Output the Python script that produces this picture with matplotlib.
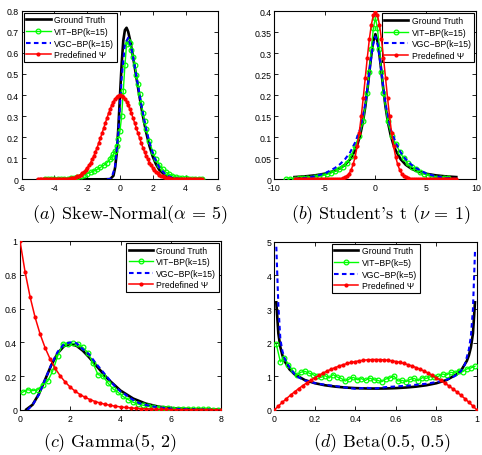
import numpy as np
import matplotlib
matplotlib.use("Agg")
import matplotlib.pyplot as plt
from matplotlib.ticker import FuncFormatter

plt.rcParams['font.family'] = ['Liberation Sans', 'DejaVu Sans']
plt.rcParams['mathtext.fontset'] = 'cm'

# ---------------- (a) Skew-Normal(alpha=5) ----------------
gt_a_x = [-5, -2, -1, -0.6, -0.4, -0.3, -0.2, -0.1, 0, 0.1, 0.2, 0.3, 0.4, 0.5, 0.6, 0.8, 1.0, 1.2,
          1.4, 1.6, 1.8, 2.0, 2.2, 2.4, 2.8, 3.2, 3.6, 4.0, 5.0]
gt_a_y = [0, 0, 0, 0.001, 0.017, 0.055, 0.124, 0.245, 0.399, 0.545, 0.658, 0.708, 0.719, 0.700, 0.666,
          0.579, 0.484, 0.388, 0.300, 0.222, 0.158, 0.108, 0.071, 0.045, 0.016, 0.005, 0.001, 0.0003, 0]
vgc_a_x = [-0.8, -0.6, -0.5, -0.3, -0.1, 0.1, 0.3, 0.5, 0.7, 0.9, 1.1, 1.3, 1.5, 1.7, 1.9, 2.1, 2.4,
           2.8, 3.2, 3.6, 4.0]
vgc_a_y = [0, 0.002, 0.01, 0.06, 0.22, 0.48, 0.64, 0.672, 0.62, 0.535, 0.445, 0.355, 0.275, 0.205,
           0.148, 0.103, 0.056, 0.021, 0.007, 0.002, 0]
vit_a_x = [-4.6, -4.4, -4.2, -4.0, -3.8, -3.6, -3.4, -3.2, -3.0, -2.8, -2.6, -2.4, -2.2, -2.0, -1.8,
           -1.6, -1.4, -1.2, -1.0, -0.8, -0.6, -0.5, -0.4, -0.3, -0.2, -0.1, 0.0, 0.1, 0.2, 0.3, 0.4,
           0.5, 0.6, 0.7, 0.8, 0.9, 1.0, 1.1, 1.2, 1.3, 1.4, 1.5, 1.6, 1.8, 2.0, 2.2, 2.4, 2.6, 2.8,
           3.0, 3.2, 3.4, 3.6, 3.8, 4.0, 4.2, 4.4, 4.6, 4.8, 5.0]
vit_a_y = [0.000, 0.000, 0.001, 0.001, 0.001, 0.002, 0.002, 0.003, 0.005, 0.007, 0.010, 0.015, 0.021,
           0.027, 0.033, 0.040, 0.047, 0.056, 0.066, 0.078, 0.095, 0.105, 0.118, 0.135, 0.160, 0.190,
           0.230, 0.300, 0.420, 0.540, 0.640, 0.655, 0.645, 0.615, 0.580, 0.540, 0.495, 0.450, 0.405,
           0.360, 0.315, 0.275, 0.240, 0.180, 0.130, 0.095, 0.068, 0.048, 0.034, 0.024, 0.017, 0.012,
           0.008, 0.006, 0.004, 0.003, 0.002, 0.001, 0.001, 0.001]
psi_a_x = np.linspace(-5, 5, 101)
psi_a_y = [0, 0, 0, 0, 0, 0, 0, 0, 0.0001, 0.0001,
           0.0001, 0.0002, 0.0003, 0.0004, 0.0006, 0.0009, 0.0012, 0.0017, 0.0024, 0.0033,
           0.0044, 0.0060, 0.0079, 0.0104, 0.0136, 0.0175, 0.0224, 0.0283, 0.0355, 0.0440,
           0.0540, 0.0656, 0.0790, 0.0940, 0.1109, 0.1295, 0.1497, 0.1714, 0.1942, 0.2179,
           0.2420, 0.2661, 0.2897, 0.3123, 0.3332, 0.3521, 0.3683, 0.3814, 0.3910, 0.3970,
           0.3989,
           0.3970, 0.3910, 0.3814, 0.3683, 0.3521, 0.3332, 0.3123, 0.2897, 0.2661, 0.2420,
           0.2179, 0.1942, 0.1714, 0.1497, 0.1295, 0.1109, 0.0940, 0.0790, 0.0656, 0.0540,
           0.0440, 0.0355, 0.0283, 0.0224, 0.0175, 0.0136, 0.0104, 0.0079, 0.0060, 0.0044,
           0.0033, 0.0024, 0.0017, 0.0012, 0.0009, 0.0006, 0.0004, 0.0003, 0.0002, 0.0001,
           0.0001, 0.0001, 0, 0, 0, 0, 0, 0, 0, 0]

# ---------------- (b) Student's t (nu=1) ----------------
gt_b_x = [-8, -7, -6, -5, -4, -3.5, -3, -2.5, -2, -1.75, -1.5, -1.25, -1, -0.75, -0.5, -0.25, 0,
          0.25, 0.5, 0.75, 1, 1.25, 1.5, 1.75, 2, 2.5, 3, 3.5, 4, 5, 6, 7, 8]
gt_b_y = [0.0053, 0.0069, 0.0093, 0.0133, 0.0203, 0.0262, 0.0346, 0.0477, 0.0691, 0.0851, 0.1063,
          0.1349, 0.1728, 0.2212, 0.2765, 0.3253, 0.3456, 0.3253, 0.2765, 0.2212, 0.1728, 0.1349,
          0.1063, 0.0851, 0.0691, 0.0477, 0.0346, 0.0262, 0.0203, 0.0133, 0.0093, 0.0069, 0.0053]
vgc_b_x = [-8, -7, -6, -5, -4, -3.5, -3, -2.5, -2, -1.5, -1, -0.75, -0.5, -0.25, 0,
           0.25, 0.5, 0.75, 1, 1.5, 2, 2.5, 3, 3.5, 4, 5, 6, 7, 8]
vgc_b_y = [0.001, 0.003, 0.007, 0.014, 0.027, 0.036, 0.048, 0.064, 0.088, 0.120, 0.180, 0.225,
           0.275, 0.318, 0.340, 0.318, 0.275, 0.225, 0.180, 0.120, 0.088, 0.064, 0.048, 0.036,
           0.027, 0.014, 0.007, 0.003, 0.001]
vit_b_x = [-8.8, -8.4, -8.0, -7.6, -7.2, -6.8, -6.4, -6.0, -5.6, -5.2, -4.8, -4.4, -4.0, -3.6,
           -3.2, -2.8, -2.4, -2.0, -1.6, -1.2, -0.8, -0.6, -0.4, -0.2, 0.0, 0.2, 0.4, 0.6, 0.8,
           1.2, 1.6, 2.0, 2.4, 2.8, 3.2, 3.6, 4.0, 4.4, 4.8, 5.2, 5.6, 6.0, 6.4, 6.8, 7.2]
vit_b_y = [0.000, 0.001, 0.001, 0.002, 0.002, 0.003, 0.004, 0.005, 0.007, 0.009, 0.012, 0.015,
           0.019, 0.024, 0.030, 0.040, 0.055, 0.080, 0.103, 0.140, 0.205, 0.255, 0.310, 0.360,
           0.385, 0.360, 0.310, 0.255, 0.205, 0.140, 0.103, 0.085, 0.066, 0.050, 0.038, 0.030,
           0.024, 0.018, 0.013, 0.009, 0.006, 0.004, 0.003, 0.002, 0.002]
psi_b_x = np.linspace(-8, 8, 81)
psi_b_y = [0, 0, 0, 0, 0, 0, 0, 0, 0, 0, 0, 0, 0, 0, 0, 0, 0, 0, 0, 0,
           0.0001, 0.0003, 0.0006, 0.0012, 0.0024, 0.0044, 0.0079, 0.0136, 0.0224, 0.0355,
           0.0540, 0.0790, 0.1109, 0.1497, 0.1942, 0.2420, 0.2897, 0.3332, 0.3683, 0.3910,
           0.3989,
           0.3910, 0.3683, 0.3332, 0.2897, 0.2420, 0.1942, 0.1497, 0.1109, 0.0790, 0.0540,
           0.0355, 0.0224, 0.0136, 0.0079, 0.0044, 0.0024, 0.0012, 0.0006, 0.0003, 0.0001,
           0, 0, 0, 0, 0, 0, 0, 0, 0, 0, 0, 0, 0, 0, 0, 0, 0, 0, 0, 0]

# ---------------- (c) Gamma(5,2) ----------------
gt_c_x = [0.25, 0.5, 0.75, 1.0, 1.25, 1.5, 1.75, 2.0, 2.25, 2.5, 2.75, 3.0, 3.5, 4.0, 4.5, 5.0,
          5.5, 6.0, 7.0, 8.0]
gt_c_y = [0.003, 0.031, 0.094, 0.180, 0.267, 0.336, 0.378, 0.391, 0.380, 0.351, 0.312, 0.268,
          0.183, 0.115, 0.068, 0.038, 0.020, 0.011, 0.003, 0.001]
vgc_c_x = [0.3, 0.5, 0.75, 1.0, 1.25, 1.5, 1.75, 2.0, 2.25, 2.5, 2.75, 3.0, 3.25, 3.5, 3.75, 4.0,
           4.25, 4.5, 4.75, 5.0, 5.5, 6.0, 7.0, 8.0]
vgc_c_y = [0.0, 0.03, 0.09, 0.18, 0.27, 0.345, 0.39, 0.40, 0.395, 0.36, 0.33, 0.28, 0.235, 0.19,
           0.145, 0.11, 0.085, 0.06, 0.04, 0.03, 0.015, 0.008, 0.002, 0.0]
vit_c_x = np.linspace(0.1, 7.9, 40)
vit_c_y = [0.105, 0.120, 0.115, 0.118, 0.150, 0.170, 0.230, 0.320, 0.390, 0.390, 0.395, 0.390,
           0.370, 0.340, 0.280, 0.210, 0.200, 0.160, 0.125, 0.105, 0.080, 0.062, 0.046, 0.035,
           0.028, 0.021, 0.017, 0.014, 0.011, 0.009, 0.007, 0.006, 0.005, 0.004, 0.004, 0.003,
           0.003, 0.003, 0.002, 0.002]
psi_c_x = np.linspace(0, 8, 41)
psi_c_y = [1.0, 0.8187, 0.6703, 0.5488, 0.4493, 0.3679, 0.3012, 0.2466, 0.2019, 0.1653, 0.1353,
           0.1108, 0.0907, 0.0743, 0.0608, 0.0498, 0.0408, 0.0334, 0.0273, 0.0224, 0.0183, 0.0150,
           0.0123, 0.0101, 0.0082, 0.0067, 0.0055, 0.0045, 0.0037, 0.0030, 0.0025, 0.0020, 0.0017,
           0.0014, 0.0011, 0.0009, 0.0007, 0.0006, 0.0005, 0.0004, 0.0003]

# ---------------- (d) Beta(0.5,0.5) ----------------
gt_d_x = [0.01, 0.02, 0.03, 0.04, 0.05, 0.075, 0.1, 0.15, 0.2, 0.25, 0.3, 0.35, 0.4, 0.45, 0.5,
          0.55, 0.6, 0.65, 0.7, 0.75, 0.8, 0.85, 0.9, 0.925, 0.95, 0.96, 0.97, 0.98, 0.99]
gt_d_y = [3.199, 2.274, 1.866, 1.624, 1.460, 1.208, 1.061, 0.891, 0.796, 0.735, 0.695, 0.668,
          0.650, 0.640, 0.637, 0.640, 0.650, 0.668, 0.695, 0.735, 0.796, 0.891, 1.061, 1.208,
          1.460, 1.624, 1.866, 2.274, 3.199]
vgc_d_x = [0.01, 0.02, 0.03, 0.04, 0.05, 0.06, 0.08, 0.10, 0.12, 0.15, 0.2, 0.25, 0.3, 0.35, 0.4,
           0.45, 0.5, 0.55, 0.6, 0.65, 0.7, 0.75, 0.8, 0.85, 0.88, 0.9, 0.92, 0.94, 0.96, 0.97,
           0.98, 0.99]
vgc_d_y = [4.85, 3.1, 2.1, 1.75, 1.55, 1.42, 1.22, 1.07, 0.97, 0.88, 0.80, 0.75, 0.71, 0.67, 0.63,
           0.66, 0.64, 0.68, 0.70, 0.72, 0.75, 0.78, 0.83, 0.90, 0.97, 1.05, 1.15, 1.35, 1.8, 2.2,
           3.0, 4.7]
vit_d_x = np.linspace(0.01, 0.99, 50)
vit_d_y = [1.95, 1.43, 1.55, 1.35, 1.18, 1.03, 1.12, 1.15, 1.10, 1.05, 1.00, 0.97, 1.02, 0.95,
           1.05, 0.98, 0.94, 0.86, 0.92, 0.97, 0.90, 0.93, 0.88, 0.95, 0.90, 0.88, 0.84, 0.92,
           0.95, 1.01, 0.86, 0.88, 0.84, 0.91, 0.94, 0.87, 0.96, 0.94, 0.99, 0.97, 1.00, 1.07,
           1.04, 1.12, 1.10, 1.17, 1.14, 1.22, 1.25, 1.30]
psi_d_x = np.linspace(0, 1, 51)
psi_d_y = [0, 0.1176, 0.2304, 0.3384, 0.4416, 0.54, 0.6336, 0.7224, 0.8064, 0.8856, 0.96, 1.0296,
           1.0944, 1.1544, 1.2096, 1.26, 1.3056, 1.3464, 1.3824, 1.4136, 1.44, 1.4616, 1.4784,
           1.4904, 1.4976, 1.5, 1.4976, 1.4904, 1.4784, 1.4616, 1.44, 1.4136, 1.3824, 1.3464,
           1.3056, 1.26, 1.2096, 1.1544, 1.0944, 1.0296, 0.96, 0.8856, 0.8064, 0.7224, 0.6336,
           0.54, 0.4416, 0.3384, 0.2304, 0.1176, 0]

W, H = 482, 456
fig = plt.figure(figsize=(W / 100, H / 100), dpi=100)


def rect(l, r, t, b):
    return [l / W, 1 - b / H, (r - l) / W, (b - t) / H]


fmt = FuncFormatter(lambda v, p: "%g" % round(v, 6))


def panel(r, curves, k, xlim, xticks, ylim, yticks, legloc, caption, cap_x, cap_y):
    ax = fig.add_axes(r)
    gx, gy, vx, vy, cx, cy, px, py = curves
    ax.plot(gx, gy, color='black', lw=1.9, label='Ground Truth', zorder=3)
    ax.plot(vx, vy, color=(0, 1, 0), lw=1.0, marker='o', ms=3.4, mfc='none', mew=0.9,
            label='VIT\u2212BP(k=%d)' % k, zorder=4)
    ax.plot(cx, cy, color=(0, 0, 1), lw=1.5, ls=(0, (2.2, 1.6)), label='VGC\u2212BP(k=%d)' % k, zorder=5)
    ax.plot(px, py, color=(1, 0, 0), lw=1.1, marker='o', ms=2.0, label='Predefined \u03a8', zorder=6)
    ax.set_xlim(*xlim)
    ax.set_ylim(*ylim)
    ax.set_xticks(xticks)
    ax.set_yticks(yticks)
    ax.xaxis.set_major_formatter(fmt)
    ax.yaxis.set_major_formatter(fmt)
    ax.tick_params(direction='in', top=True, right=True, length=3, width=0.6, labelsize=6.3, pad=2)
    ax.tick_params(axis='x', pad=3)
    for s in ax.spines.values():
        s.set_linewidth(0.8)
    leg = ax.legend(loc=legloc, fontsize=6.2, frameon=True, fancybox=False, edgecolor='black',
                    borderaxespad=0.25, handlelength=2.8, handletextpad=0.4, labelspacing=0.3,
                    borderpad=0.3, framealpha=1)
    leg.get_frame().set_linewidth(0.8)
    fig.text(cap_x / W, 1 - cap_y / H, caption, fontsize=13, family='cmr10', ha='left', va='center')
    return ax


panel(rect(21.7, 218.3, 11.7, 180.3),
      (gt_a_x, gt_a_y, vit_a_x, vit_a_y, vgc_a_x, vgc_a_y, psi_a_x, psi_a_y), 15,
      (-6, 6), [-6, -4, -2, 0, 2, 4, 6], (0, 0.8), np.linspace(0, 0.8, 9), 'upper left',
      r'$(a)$ Skew-Normal($\alpha$ = 5)', 32, 215)
panel(rect(274.3, 476.5, 12.3, 180.3),
      (gt_b_x, gt_b_y, vit_b_x, vit_b_y, vgc_b_x, vgc_b_y, psi_b_x, psi_b_y), 15,
      (-10, 10), [-10, -5, 0, 5, 10], (0, 0.4), np.linspace(0, 0.4, 9), 'upper right',
      r"$(b)$ Student's t ($\nu$ = 1)", 291, 215)
panel(rect(20, 221, 242, 411),
      (gt_c_x, gt_c_y, vit_c_x, vit_c_y, vgc_c_x, vgc_c_y, psi_c_x, psi_c_y), 15,
      (0, 8), [0, 2, 4, 6, 8], (0, 1), np.linspace(0, 1, 6), 'upper right',
      r'$(c)$ Gamma(5, 2)', 43, 443)
panel(rect(274.3, 477, 242.7, 411),
      (gt_d_x, gt_d_y, vit_d_x, vit_d_y, vgc_d_x, vgc_d_y, psi_d_x, psi_d_y), 5,
      (0, 1), np.linspace(0, 1, 6), (0, 5), [0, 1, 2, 3, 4, 5], 'upper center',
      r'$(d)$ Beta(0.5, 0.5)', 313, 443)

fig.savefig("out.png", dpi=100)
